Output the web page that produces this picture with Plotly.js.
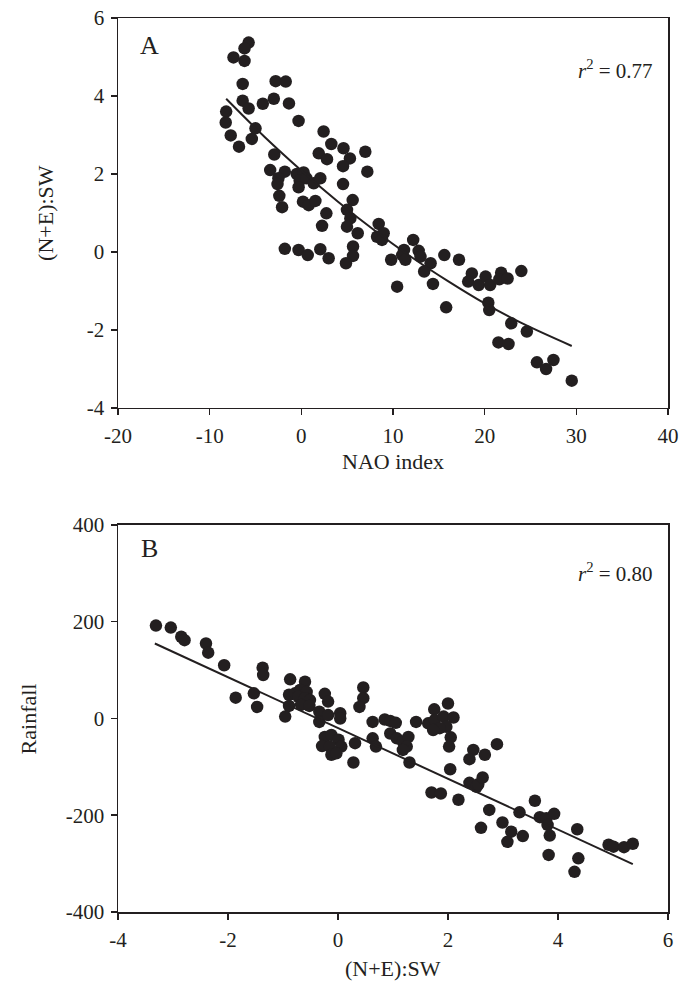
<!DOCTYPE html>
<html>
<head>
<meta charset="utf-8">
<script src="https://cdn.plot.ly/plotly-3.0.1.min.js"></script>
<style>html,body{margin:0;padding:0;background:#fff;}#chart{width:685px;height:999px;}</style>
</head>
<body>
<div id="chart"></div>
<script>
// Panel A: NAO index vs (N+E):SW
const naoIndex = [-5.75,-6.2,-7.4,-6.2,-6.4,-2.8,-1.7,-6.4,-5.75,-4.2,-3.0,-1.35,-8.2,-8.25,-5.0,-7.7,-5.4,-6.8,-0.3,-2.95,-3.4,-1.8,-0.5,-2.5,-2.6,-2.4,-2.1,
  2.43,3.27,4.6,6.98,1.9,2.8,5.3,4.55,7.2,0.25,-0.18,0.55,-0.3,1.35,2.07,4.55,0.18,0.8,1.53,5.6,2.73,4.98,5.35,2.26,4.98,6.15,8.44,8.26,8.98,8.8,12.2,
  -1.8,-0.3,0.7,2.07,2.98,5.64,5.64,4.87,9.8,11.2,11.0,11.35,12.8,13.0,14.1,13.4,15.6,10.45,14.36,
  17.2,18.6,18.2,19.35,20.1,20.6,21.8,21.6,22.5,24.0,15.8,20.4,20.5,22.9,24.6,21.5,22.6,25.7,27.5,26.7,29.5];
const ratioA = [5.37,5.22,4.99,4.9,4.31,4.38,4.37,3.88,3.68,3.80,3.93,3.81,3.60,3.32,3.17,2.99,2.90,2.70,3.36,2.50,2.10,2.06,2.0,1.89,1.74,1.44,1.15,
  3.09,2.77,2.66,2.57,2.53,2.38,2.40,2.20,2.06,2.04,1.83,1.89,1.66,1.76,1.89,1.74,1.29,1.2,1.31,1.33,0.99,1.08,0.86,0.67,0.65,0.48,0.72,0.39,0.48,0.31,0.31,
  0.08,0.05,-0.08,0.07,-0.16,0.14,-0.1,-0.29,-0.2,0.05,-0.08,-0.2,0.03,-0.12,-0.29,-0.5,-0.08,-0.89,-0.82,
  -0.2,-0.55,-0.76,-0.85,-0.63,-0.85,-0.53,-0.7,-0.68,-0.49,-1.42,-1.3,-1.49,-1.83,-2.04,-2.32,-2.36,-2.83,-2.77,-3.0,-3.3];
// fitted curve A
const fitAx = [-8.2,-4,0,4,8,12,16,20,24,29.5];
const fitAy = [3.93,2.95,2.09,1.29,0.55,-0.13,-0.75,-1.32,-1.82,-2.41];

// Panel B: (N+E):SW vs Rainfall
const ratioB = [-3.31,-3.04,-2.85,-2.79,-2.4,-2.36,-2.07,-1.37,-1.36,-1.86,-1.53,-1.47,-0.87,-0.89,-0.89,-0.96,
  -0.78,-0.6,-0.69,-0.57,-0.72,-0.6,-0.51,-0.67,-0.52,
  -0.24,-0.18,-0.34,-0.34,-0.18,0.04,0.04,0.46,0.46,0.39,
  -0.24,-0.12,0.01,-0.29,-0.15,0.06,-0.12,-0.03,
  0.31,0.28,0.63,0.63,0.69,0.85,0.95,1.05,
  0.95,1.07,1.18,1.28,1.25,1.18,1.3,1.42,
  1.64,1.75,1.76,1.92,2.0,2.1,1.97,1.85,1.73,
  2.05,2.02,2.46,2.39,2.04,1.7,1.87,2.19,2.39,2.52,
  2.89,2.67,2.55,2.63,
  2.75,2.6,2.99,3.15,3.08,3.36,3.3,3.58,3.67,3.79,3.93,3.81,3.85,3.83,4.35,4.37,4.3,4.92,5.01,5.2,5.36];
const rainfall = [192,188,169,162,155,136,110,105,90,43,52,24,81,49,26,4,
  52,76,59,55,45,42,38,28,26,
  51,35,14,-7,7,11,0,64,42,24,
  -38,-34,-44,-57,-58,-58,-75,-72,
  -51,-91,-7,-41,-58,-2,-5,-9,
  -31,-41,-48,-38,-58,-65,-91,-7,
  -10,19,-3,4,31,2,-17,-20,-24,
  -39,-58,-65,-84,-105,-153,-155,-168,-133,-141,
  -53,-75,-136,-122,
  -189,-226,-215,-234,-255,-243,-194,-170,-204,-206,-197,-220,-242,-282,-229,-289,-317,-261,-265,-266,-259];
// fitted line B
const fitBx = [-3.33, 5.36];
const fitBy = [155, -301];

const ticksAx = [-20,-10,0,10,20,30,40];
const ticksAy = [-4,-2,0,2,4,6];
const ticksBx = [-4,-2,0,2,4,6];
const ticksBy = [-400,-200,0,200,400];

const ink = '#231f20';
const fontFam = '"Liberation Serif", "Times New Roman", serif';

const traces = [
  {x: naoIndex, y: ratioA, type: 'scatter', mode: 'markers', xaxis: 'x', yaxis: 'y',
   marker: {size: 12.5, color: ink}},
  {x: fitAx, y: fitAy, type: 'scatter', mode: 'lines', xaxis: 'x', yaxis: 'y',
   line: {color: ink, width: 2, shape: 'spline'}},
  {x: ratioB, y: rainfall, type: 'scatter', mode: 'markers', xaxis: 'x2', yaxis: 'y2',
   marker: {size: 12.5, color: ink}},
  {x: fitBx, y: fitBy, type: 'scatter', mode: 'lines', xaxis: 'x2', yaxis: 'y2',
   line: {color: ink, width: 2}}
];

function axis(range, ticks, extra) {
  return Object.assign({
    range: range, tickmode: 'array', tickvals: ticks, ticktext: ticks.map(String),
    ticks: 'outside', ticklen: 6, tickwidth: 1.5, tickcolor: ink,
    showline: true, linecolor: ink, linewidth: 1.5, mirror: true,
    showgrid: false, zeroline: false, ticklabelstandoff: 2,
    tickfont: {family: fontFam, size: 21, color: ink}
  }, extra);
}

const layout = {
  width: 685, height: 999,
  margin: {l: 118, r: 17, t: 18, b: 87},
  paper_bgcolor: '#fff', plot_bgcolor: '#fff',
  showlegend: false,
  font: {family: fontFam, color: ink},
  xaxis: axis([-20, 40], ticksAx, {domain: [0, 1], anchor: 'y'}),
  yaxis: axis([-4, 6], ticksAy, {domain: [0.5638, 1], anchor: 'x'}),
  xaxis2: axis([-4, 6], ticksBx, {domain: [0, 1], anchor: 'y2'}),
  yaxis2: axis([-400, 400], ticksBy, {domain: [0, 0.4329], anchor: 'x2'}),
  annotations: [
    {text: 'A', xref: 'x domain', yref: 'y domain', x: 0.058, y: 0.93, showarrow: false,
     xanchor: 'center', yanchor: 'middle', font: {family: fontFam, size: 26, color: ink}},
    {text: '<i>r</i><sup>2</sup> = 0.77', xref: 'x domain', yref: 'y domain', x: 0.976, y: 0.867, showarrow: false,
     xanchor: 'right', yanchor: 'middle', font: {family: fontFam, size: 21, color: ink}},
    {text: 'B', xref: 'x2 domain', yref: 'y2 domain', x: 0.058, y: 0.94, showarrow: false,
     xanchor: 'center', yanchor: 'middle', font: {family: fontFam, size: 26, color: ink}},
    {text: '<i>r</i><sup>2</sup> = 0.80', xref: 'x2 domain', yref: 'y2 domain', x: 0.976, y: 0.876, showarrow: false,
     xanchor: 'right', yanchor: 'middle', font: {family: fontFam, size: 21, color: ink}},
    {text: 'NAO index', xref: 'x domain', yref: 'y domain', x: 0.5, y: -0.137, showarrow: false,
     xanchor: 'center', yanchor: 'middle', font: {family: fontFam, size: 22, color: ink}},
    {text: '(N+E):SW', xref: 'x domain', yref: 'y domain', x: -0.131, y: 0.5, showarrow: false, textangle: -90,
     xanchor: 'center', yanchor: 'middle', font: {family: fontFam, size: 22, color: ink}},
    {text: '(N+E):SW', xref: 'x2 domain', yref: 'y2 domain', x: 0.5, y: -0.145, showarrow: false,
     xanchor: 'center', yanchor: 'middle', font: {family: fontFam, size: 22, color: ink}},
    {text: 'Rainfall', xref: 'x2 domain', yref: 'y2 domain', x: -0.162, y: 0.5, showarrow: false, textangle: -90,
     xanchor: 'center', yanchor: 'middle', font: {family: fontFam, size: 22, color: ink}}
  ]
};

Plotly.newPlot('chart', traces, layout, {staticPlot: true, displayModeBar: false});
</script>
</body>
</html>
